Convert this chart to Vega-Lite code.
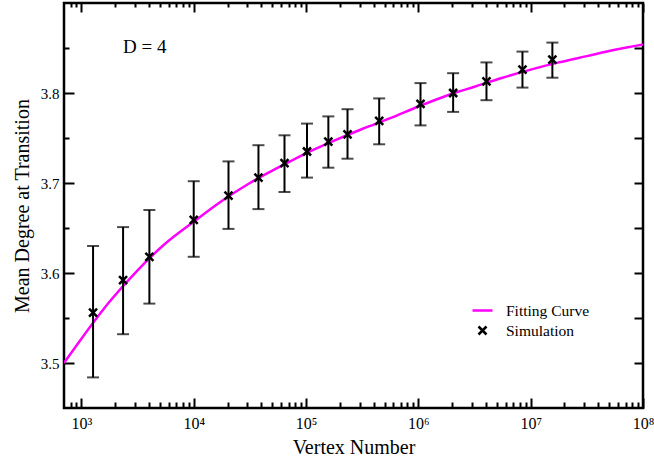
{
  "$schema": "https://vega.github.io/schema/vega-lite/v6.json",
  "width": 579,
  "height": 405,
  "autosize": {"type": "none"},
  "padding": {"left": 64, "top": 3, "right": 11, "bottom": 50},
  "background": "white",
  "config": {
    "view": {"stroke": "black", "strokeWidth": 2.5},
    "font": "Liberation Serif",
    "axis": {"grid": false, "domain": false, "tickColor": "black", "tickWidth": 2, "labelColor": "black", "titleColor": "black", "labelFont": "Liberation Serif", "titleFont": "Liberation Serif", "titleFontWeight": "normal"},
    "legend": {"labelFont": "Liberation Serif"}
  },
  "datasets": {
    "sim": [
      {"N": 1270, "deg": 3.556, "lo": 3.484, "hi": 3.630, "series": "Simulation"},
      {"N": 2350, "deg": 3.592, "lo": 3.532, "hi": 3.651, "series": "Simulation"},
      {"N": 4030, "deg": 3.618, "lo": 3.566, "hi": 3.670, "series": "Simulation"},
      {"N": 10000, "deg": 3.659, "lo": 3.618, "hi": 3.702, "series": "Simulation"},
      {"N": 20400, "deg": 3.686, "lo": 3.649, "hi": 3.724, "series": "Simulation"},
      {"N": 37700, "deg": 3.706, "lo": 3.671, "hi": 3.742, "series": "Simulation"},
      {"N": 64300, "deg": 3.722, "lo": 3.690, "hi": 3.753, "series": "Simulation"},
      {"N": 102000, "deg": 3.735, "lo": 3.706, "hi": 3.766, "series": "Simulation"},
      {"N": 158000, "deg": 3.746, "lo": 3.717, "hi": 3.774, "series": "Simulation"},
      {"N": 234000, "deg": 3.754, "lo": 3.727, "hi": 3.782, "series": "Simulation"},
      {"N": 448000, "deg": 3.769, "lo": 3.743, "hi": 3.794, "series": "Simulation"},
      {"N": 1045000, "deg": 3.788, "lo": 3.764, "hi": 3.811, "series": "Simulation"},
      {"N": 2040000, "deg": 3.800, "lo": 3.779, "hi": 3.822, "series": "Simulation"},
      {"N": 4040000, "deg": 3.813, "lo": 3.792, "hi": 3.834, "series": "Simulation"},
      {"N": 8450000, "deg": 3.826, "lo": 3.806, "hi": 3.846, "series": "Simulation"},
      {"N": 15600000, "deg": 3.837, "lo": 3.817, "hi": 3.856, "series": "Simulation"}
    ],
    "fit": [
      {"N": 700, "deg": 3.500, "series": "Fitting Curve"},
      {"N": 1000, "deg": 3.527, "series": "Fitting Curve"},
      {"N": 1778, "deg": 3.568, "series": "Fitting Curve"},
      {"N": 3162, "deg": 3.603, "series": "Fitting Curve"},
      {"N": 5623, "deg": 3.633, "series": "Fitting Curve"},
      {"N": 10000, "deg": 3.657, "series": "Fitting Curve"},
      {"N": 17783, "deg": 3.680, "series": "Fitting Curve"},
      {"N": 31623, "deg": 3.700, "series": "Fitting Curve"},
      {"N": 56234, "deg": 3.717, "series": "Fitting Curve"},
      {"N": 100000, "deg": 3.733, "series": "Fitting Curve"},
      {"N": 177828, "deg": 3.747, "series": "Fitting Curve"},
      {"N": 316228, "deg": 3.760, "series": "Fitting Curve"},
      {"N": 562341, "deg": 3.772, "series": "Fitting Curve"},
      {"N": 1000000, "deg": 3.785, "series": "Fitting Curve"},
      {"N": 1778279, "deg": 3.797, "series": "Fitting Curve"},
      {"N": 3162278, "deg": 3.807, "series": "Fitting Curve"},
      {"N": 5623413, "deg": 3.817, "series": "Fitting Curve"},
      {"N": 10000000, "deg": 3.826, "series": "Fitting Curve"},
      {"N": 17782794, "deg": 3.834, "series": "Fitting Curve"},
      {"N": 31622777, "deg": 3.841, "series": "Fitting Curve"},
      {"N": 56234133, "deg": 3.848, "series": "Fitting Curve"},
      {"N": 100000000, "deg": 3.854, "series": "Fitting Curve"}
    ],
    "note": [{"N": 2347, "deg": 3.8514, "label": "D = 4"}]
  },
  "layer": [
    {
      "data": {"name": "fit"},
      "mark": {"type": "line", "strokeWidth": 2.5, "interpolate": "monotone", "clip": true},
      "encoding": {
        "x": {"field": "N", "type": "quantitative", "scale": {"type": "log", "domain": [700, 100000000], "nice": false},
          "axis": {"orient": "bottom", "offset": -10, "tickSize": 10, "values": [1000, 10000, 100000, 1000000, 10000000, 100000000], "labelExpr": "'10' + ['³','⁴','⁵','⁶','⁷','⁸'][round(log(datum.value)/log(10))-3]", "labelFontSize": 16, "labelPadding": 7, "labelFlush": false, "title": "Vertex Number", "titleFontSize": 20, "titlePadding": 6}},
        "y": {"field": "deg", "type": "quantitative", "scale": {"domain": [3.45, 3.9], "nice": false, "zero": false},
          "axis": {"orient": "left", "offset": -10, "tickSize": 10, "values": [3.5, 3.6, 3.7, 3.8], "format": ".1f", "labelFontSize": 15, "labelPadding": 5, "title": "Mean Degree at Transition", "titleFontSize": 20, "titlePadding": 8}},
        "color": {"field": "series", "type": "nominal", "scale": {"domain": ["Fitting Curve", "Simulation"], "range": ["#ff00ff", "black"]},
          "legend": {"orient": "none", "legendX": 407, "legendY": 296, "title": null, "labelFontSize": 15.5, "labelFont": "Liberation Serif", "labelColor": "black", "symbolSize": 400, "symbolStrokeWidth": 2.5, "labelOffset": 12, "rowPadding": 0, "padding": 0}}
      }
    },
    {
      "data": {"name": "sim"},
      "mark": {"type": "rule", "strokeWidth": 2, "color": "black"},
      "encoding": {
        "x": {"field": "N", "type": "quantitative", "scale": {"type": "log", "domain": [700, 100000000], "nice": false},
          "axis": {"orient": "bottom", "offset": -6, "tickSize": 6, "labels": false, "title": null, "values": [800, 900, 2000, 3000, 4000, 5000, 6000, 7000, 8000, 9000, 20000, 30000, 40000, 50000, 60000, 70000, 80000, 90000, 200000, 300000, 400000, 500000, 600000, 700000, 800000, 900000, 2000000, 3000000, 4000000, 5000000, 6000000, 7000000, 8000000, 9000000, 20000000, 30000000, 40000000, 50000000, 60000000, 70000000, 80000000, 90000000]}},
        "y": {"field": "lo", "type": "quantitative", "scale": {"domain": [3.45, 3.9], "nice": false, "zero": false},
          "axis": {"orient": "left", "offset": -5, "tickSize": 5, "labels": false, "title": null, "values": [3.55, 3.65, 3.75, 3.85]}},
        "y2": {"field": "hi"}
      }
    },
    {
      "data": {"name": "sim"},
      "mark": {"type": "tick", "orient": "horizontal", "size": 12, "thickness": 2, "color": "black"},
      "encoding": {
        "x": {"field": "N", "type": "quantitative", "scale": {"type": "log", "domain": [700, 100000000], "nice": false},
          "axis": {"orient": "top", "offset": -9, "tickSize": 9, "labels": false, "title": null, "values": [1000, 10000, 100000, 1000000, 10000000, 100000000]}},
        "y": {"field": "lo", "type": "quantitative", "scale": {"domain": [3.45, 3.9], "nice": false, "zero": false},
          "axis": {"orient": "right", "offset": -9, "tickSize": 9, "labels": false, "title": null, "values": [3.5, 3.55, 3.6, 3.65, 3.7, 3.75, 3.8, 3.85]}}
      }
    },
    {
      "data": {"name": "sim"},
      "mark": {"type": "tick", "orient": "horizontal", "size": 12, "thickness": 2, "color": "black"},
      "encoding": {
        "x": {"field": "N", "type": "quantitative", "scale": {"type": "log", "domain": [700, 100000000], "nice": false},
          "axis": {"orient": "top", "offset": -4, "tickSize": 4, "labels": false, "title": null, "values": [800, 900, 2000, 3000, 4000, 5000, 6000, 7000, 8000, 9000, 20000, 30000, 40000, 50000, 60000, 70000, 80000, 90000, 200000, 300000, 400000, 500000, 600000, 700000, 800000, 900000, 2000000, 3000000, 4000000, 5000000, 6000000, 7000000, 8000000, 9000000, 20000000, 30000000, 40000000, 50000000, 60000000, 70000000, 80000000, 90000000]}},
        "y": {"field": "hi", "type": "quantitative", "scale": {"domain": [3.45, 3.9], "nice": false, "zero": false}, "axis": null}
      }
    },
    {
      "data": {"name": "sim"},
      "mark": {"type": "point", "filled": false, "strokeWidth": 2.5, "opacity": 1, "size": 400},
      "encoding": {
        "x": {"field": "N", "type": "quantitative", "scale": {"type": "log", "domain": [700, 100000000], "nice": false}, "axis": null},
        "y": {"field": "deg", "type": "quantitative", "scale": {"domain": [3.45, 3.9], "nice": false, "zero": false}, "axis": null},
        "color": {"field": "series", "type": "nominal", "scale": {"domain": ["Fitting Curve", "Simulation"], "range": ["#ff00ff", "black"]}},
        "shape": {"field": "series", "type": "nominal", "scale": {"domain": ["Fitting Curve", "Simulation"], "range": ["stroke", "M-0.4,-0.4L0.4,0.4M0.4,-0.4L-0.4,0.4"]}}
      }
    },
    {
      "data": {"name": "note"},
      "mark": {"type": "text", "align": "left", "baseline": "middle", "fontSize": 19, "font": "Liberation Serif", "color": "black"},
      "encoding": {
        "x": {"field": "N", "type": "quantitative", "scale": {"type": "log", "domain": [700, 100000000], "nice": false}, "axis": null},
        "y": {"field": "deg", "type": "quantitative", "scale": {"domain": [3.45, 3.9], "nice": false, "zero": false}, "axis": null},
        "text": {"field": "label"}
      }
    }
  ],
  "resolve": {"axis": {"x": "independent", "y": "independent"}}
}
